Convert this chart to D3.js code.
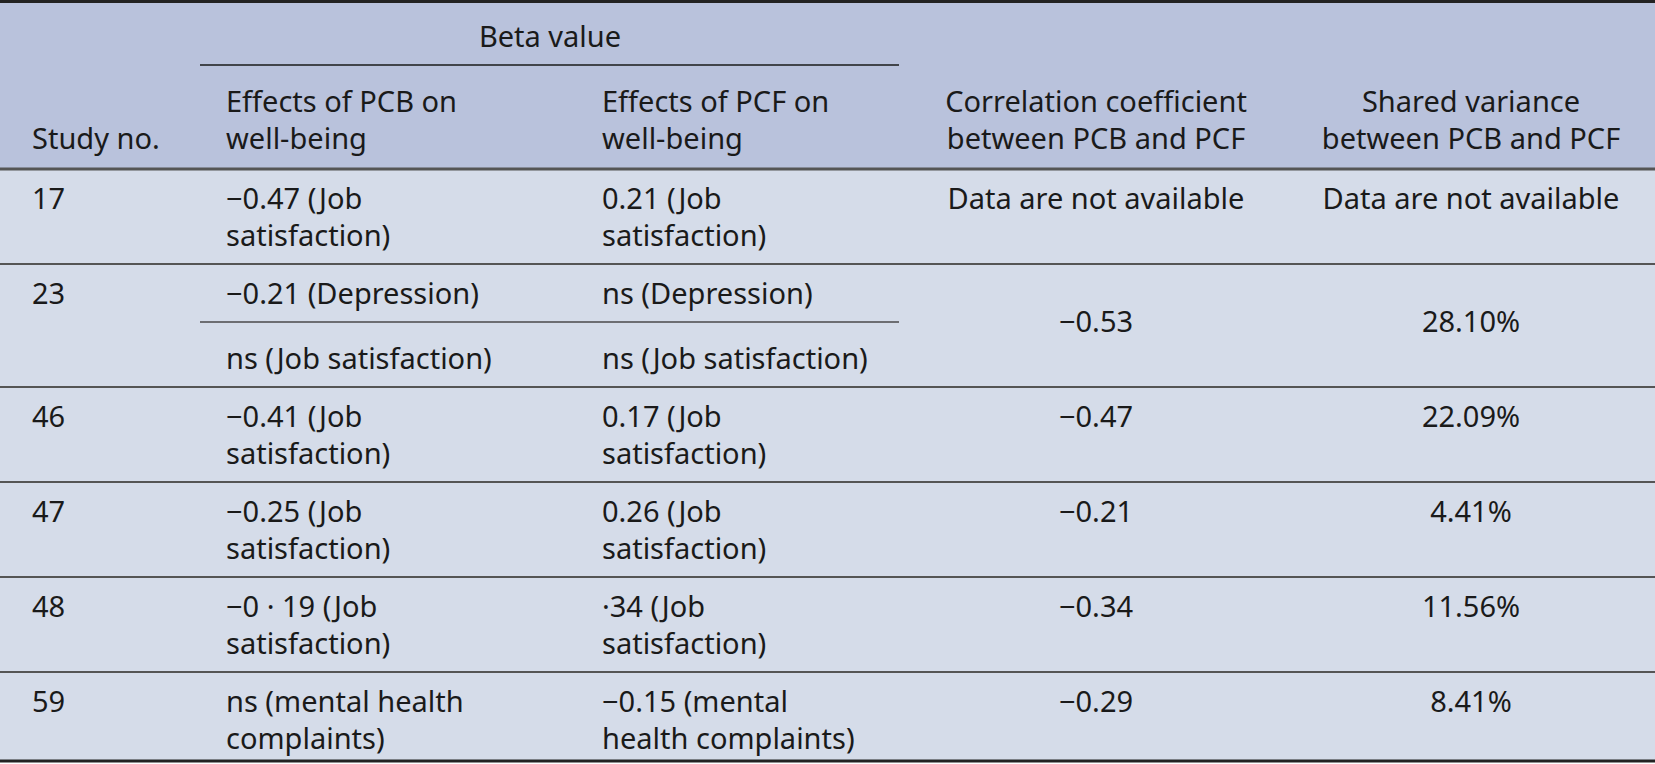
<!DOCTYPE html>
<html>
<head>
<meta charset="utf-8">
<script src="https://cdn.jsdelivr.net/npm/d3@7"></script>
<style>
  body { margin: 0; background: #ffffff; }
  text { font-family: "Noto Sans", Lato, sans-serif; fill: #1a1a1a; }
</style>
</head>
<body>
<div id="d3chart"></div>
<script>
// table content, one entry per study (study 23 has two sub rows)
const studyNos = ['17', '23', '46', '47', '48', '59'];
const pcbEffects = [
    [['\u22120.47 (Job', 'satisfaction)']],
    [['\u22120.21 (Depression)'], ['ns (Job satisfaction)']],
    [['\u22120.41 (Job', 'satisfaction)']],
    [['\u22120.25 (Job', 'satisfaction)']],
    [['\u22120 \u00b7 19 (Job', 'satisfaction)']],
    [['ns (mental health', 'complaints)']]
];
const pcfEffects = [
    [['0.21 (Job', 'satisfaction)']],
    [['ns (Depression)'], ['ns (Job satisfaction)']],
    [['0.17 (Job', 'satisfaction)']],
    [['0.26 (Job', 'satisfaction)']],
    [['\u00b734 (Job', 'satisfaction)']],
    [['\u22120.15 (mental', 'health complaints)']]
];
const correlations = ['Data are not available', '\u22120.53', '\u22120.47', '\u22120.21', '\u22120.34', '\u22120.29'];
const sharedVariances = ['Data are not available', '28.10%', '22.09%', '4.41%', '11.56%', '8.41%'];

const headerTop = 'Beta value';
const headerCols = [
    ['Study no.'],
    ['Effects of PCB on', 'well-being'],
    ['Effects of PCF on', 'well-being'],
    ['Correlation coefficient', 'between PCB and PCF'],
    ['Shared variance', 'between PCB and PCF']
];

const width = 1655, height = 764;
const headerH = 169;
const lineH = 37;
const padTop = 29.5;
const rowPad = 21;
const fontSize = 29;

// column anchors: left aligned for first three, centered for last two
const colX = [32, 226, 602, 1096, 1471];
const colAnchor = ['start', 'start', 'start', 'middle', 'middle'];

const svg = d3.select('#d3chart')
    .append('svg')
    .attr('width', width)
    .attr('height', height);

// work out row layout from the number of text lines
const rows = [];
let y = headerH;
studyNos.forEach((s, i) => {
    const subs = pcbEffects[i].map((p, j) => {
        const n = Math.max(p.length, pcfEffects[i][j].length);
        const extra = j > 0 ? 7 : 0;
        return { lines: n, h: n * lineH + rowPad + extra, extra: extra };
    });
    let sy = y;
    subs.forEach(sub => { sub.y = sy; sy += sub.h; });
    rows.push({ i: i, y: y, h: sy - y, subs: subs });
    y = sy;
});
const bottom = Math.min(y, height - 3);

// backgrounds
svg.append('rect').attr('x', 0).attr('y', 0).attr('width', width).attr('height', headerH)
    .attr('fill', '#b9c2dc');
svg.append('rect').attr('x', 0).attr('y', headerH).attr('width', width).attr('height', bottom - headerH)
    .attr('fill', '#d5dce9');

// header
svg.append('text')
    .attr('x', 550)
    .attr('y', 37)
    .attr('dy', '0.35em')
    .attr('text-anchor', 'middle')
    .style('font-size', fontSize + 'px')
    .text(headerTop);
svg.append('line')
    .attr('x1', 200).attr('x2', 899).attr('y1', 65).attr('y2', 65)
    .attr('stroke', '#1a1a1a').attr('stroke-width', 1.3);

headerCols.forEach((lines, c) => {
    const start = 139 - (lines.length - 1) * lineH;
    svg.selectAll(null)
        .data(lines)
        .enter()
        .append('text')
            .attr('x', colX[c])
            .attr('y', (d, k) => start + k * lineH)
            .attr('dy', '0.35em')
            .attr('text-anchor', colAnchor[c])
            .style('font-size', fontSize + 'px')
            .text(d => d);
});

// body rows
const g = svg.selectAll('g.row')
    .data(rows)
    .enter()
    .append('g')
        .attr('class', 'row');

function addLines(sel, lines, x, anchor, top) {
    sel.selectAll(null)
        .data(lines)
        .enter()
        .append('text')
            .attr('x', x)
            .attr('y', (d, k) => top + padTop + k * lineH)
            .attr('dy', '0.35em')
            .attr('text-anchor', anchor)
            .style('font-size', fontSize + 'px')
            .text(d => d);
}

g.each(function(r) {
    const sel = d3.select(this);
    const single = r.subs.length === 1;
    addLines(sel, [studyNos[r.i]], colX[0], 'start', r.y);
    r.subs.forEach((sub, j) => {
        addLines(sel, pcbEffects[r.i][j], colX[1], 'start', sub.y + sub.extra);
        addLines(sel, pcfEffects[r.i][j], colX[2], 'start', sub.y + sub.extra);
        if (j > 0) {
            sel.append('line')
                .attr('x1', 200).attr('x2', 899)
                .attr('y1', sub.y).attr('y2', sub.y)
                .attr('stroke', '#4a4a4a').attr('stroke-width', 1.4);
        }
    });
    if (single) {
        addLines(sel, [correlations[r.i]], colX[3], 'middle', r.y);
        addLines(sel, [sharedVariances[r.i]], colX[4], 'middle', r.y);
    } else {
        // merged cell: centred over the sub rows
        const mid = r.subs[1].y - padTop;
        addLines(sel, [correlations[r.i]], colX[3], 'middle', mid);
        addLines(sel, [sharedVariances[r.i]], colX[4], 'middle', mid);
    }
});

// row separators
svg.selectAll('line.sep')
    .data(rows.slice(1))
    .enter()
    .append('line')
        .attr('class', 'sep')
        .attr('x1', 0).attr('x2', width)
        .attr('y1', d => d.y).attr('y2', d => d.y)
        .attr('stroke', '#555').attr('stroke-width', 2);

// frame lines
svg.append('line').attr('x1', 0).attr('x2', width).attr('y1', 1.5).attr('y2', 1.5)
    .attr('stroke', '#222').attr('stroke-width', 3);
svg.append('line').attr('x1', 0).attr('x2', width).attr('y1', headerH).attr('y2', headerH)
    .attr('stroke', '#555').attr('stroke-width', 3);
svg.append('line').attr('x1', 0).attr('x2', width).attr('y1', bottom).attr('y2', bottom)
    .attr('stroke', '#222').attr('stroke-width', 3);
</script>
</body>
</html>
